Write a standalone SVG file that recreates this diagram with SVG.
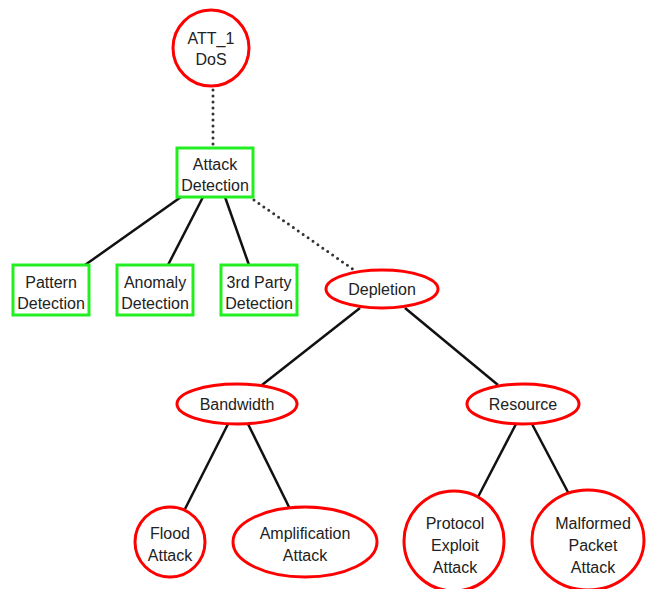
<svg xmlns="http://www.w3.org/2000/svg" width="646" height="589" viewBox="0 0 646 589">
<style>
.bg{fill:#ffffff}
.red{fill:#ffffff;stroke:#ff0000;stroke-width:3}
.grn{fill:#ffffff;stroke:#22ee22;stroke-width:3}
.t{font-family:"Liberation Sans",Arial,sans-serif;font-size:16px;fill:#222222;text-anchor:middle}
.ln{stroke:#111111;stroke-width:2.5;fill:none}
.dt{stroke:#333333;stroke-width:3;fill:none;stroke-dasharray:0 6;stroke-linecap:round}
</style>
<rect class="bg" x="0" y="0" width="646" height="589"/>
<g id="connectors">
<line class="dt" x1="213" y1="90" x2="213" y2="147"/>
<line class="dt" x1="254" y1="200" x2="354" y2="270"/>
<line class="ln" x1="181" y1="197" x2="85" y2="265"/>
<line class="ln" x1="203" y1="197" x2="168" y2="265"/>
<line class="ln" x1="225" y1="197" x2="249" y2="265"/>
<line class="ln" x1="360" y1="308" x2="262" y2="385"/>
<line class="ln" x1="405" y1="308" x2="498" y2="385"/>
<line class="ln" x1="228" y1="424" x2="185" y2="509"/>
<line class="ln" x1="248" y1="424" x2="290" y2="509"/>
<line class="ln" x1="516" y1="424" x2="478" y2="497"/>
<line class="ln" x1="532" y1="424" x2="570" y2="496"/>
</g>
<g id="att1">
<circle class="red" cx="211" cy="48" r="38"/>
<text class="t" x="211" y="44">ATT_1</text>
<text class="t" x="211" y="65">DoS</text>
</g>
<g id="attack-detection">
<rect class="grn" x="177" y="148" width="76" height="49"/>
<text class="t" x="215" y="170">Attack</text>
<text class="t" x="215" y="191">Detection</text>
</g>
<g id="pattern">
<rect class="grn" x="13" y="265" width="76" height="50"/>
<text class="t" x="51" y="288">Pattern</text>
<text class="t" x="51" y="309">Detection</text>
</g>
<g id="anomaly">
<rect class="grn" x="117" y="265" width="76" height="50"/>
<text class="t" x="155" y="288">Anomaly</text>
<text class="t" x="155" y="309">Detection</text>
</g>
<g id="thirdparty">
<rect class="grn" x="221" y="265" width="76" height="50"/>
<text class="t" x="259" y="288">3rd Party</text>
<text class="t" x="259" y="309">Detection</text>
</g>
<g id="depletion">
<ellipse class="red" cx="382" cy="289" rx="56" ry="19"/>
<text class="t" x="382" y="295">Depletion</text>
</g>
<g id="bandwidth">
<ellipse class="red" cx="237" cy="404" rx="60" ry="20"/>
<text class="t" x="237" y="410">Bandwidth</text>
</g>
<g id="resource">
<ellipse class="red" cx="523" cy="404" rx="56" ry="20"/>
<text class="t" x="523" y="410">Resource</text>
</g>
<g id="flood">
<circle class="red" cx="170" cy="542" r="35"/>
<text class="t" x="170" y="539">Flood</text>
<text class="t" x="170" y="561">Attack</text>
</g>
<g id="amplification">
<ellipse class="red" cx="305" cy="542" rx="72" ry="35"/>
<text class="t" x="305" y="539">Amplification</text>
<text class="t" x="305" y="561">Attack</text>
</g>
<g id="protocol">
<circle class="red" cx="454" cy="541" r="50"/>
<text class="t" x="455" y="529">Protocol</text>
<text class="t" x="455" y="551">Exploit</text>
<text class="t" x="455" y="573">Attack</text>
</g>
<g id="malformed">
<ellipse class="red" cx="588" cy="540" rx="56" ry="50"/>
<text class="t" x="593" y="529">Malformed</text>
<text class="t" x="593" y="551">Packet</text>
<text class="t" x="593" y="573">Attack</text>
</g>
</svg>
